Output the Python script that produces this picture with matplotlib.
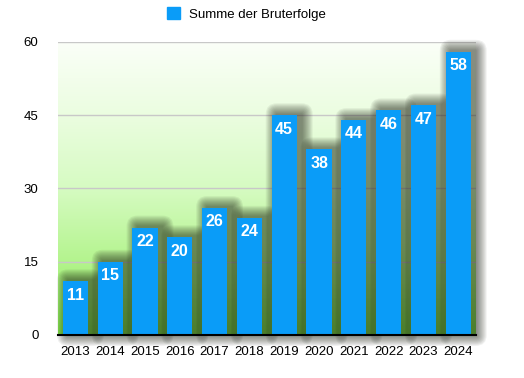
import numpy as np
import matplotlib.pyplot as plt
from matplotlib.colors import LinearSegmentedColormap
from matplotlib.patches import FancyBboxPatch, Patch

plt.rcParams['font.family'] = ['Liberation Sans', 'DejaVu Sans']

years = ['2013', '2014', '2015', '2016', '2017', '2018',
         '2019', '2020', '2021', '2022', '2023', '2024']
values = [11, 15, 22, 20, 26, 24, 45, 38, 44, 46, 47, 58]
series_name = 'Summe der Bruterfolge'
yticks = [0, 15, 30, 45, 60]

bar_color = '#0a9cf8'
bar_w = 0.72

fig = plt.figure(figsize=(5.24, 3.78), dpi=100)
ax = fig.add_axes([0.1107, 0.1138, 0.797, 0.7752])
x = np.arange(len(years))
ax.set_xlim(-0.5, len(years) - 0.5)
ax.set_ylim(0, 60)

# green gradient background
grad_cmap = LinearSegmentedColormap.from_list(
    'bg', [(0.0, '#80e448'), (0.25, '#b4f48e'), (0.5, '#d6fbc2'),
           (0.75, '#ebfde0'), (1.0, '#fbfff8')])
grad = np.linspace(0, 1, 256).reshape(-1, 1)
ax.imshow(grad, cmap=grad_cmap, origin='lower', aspect='auto',
          extent=(-0.5, len(years) - 0.5, 0, 60), zorder=0)

for t in yticks[1:]:
    ax.axhline(t, color='#c8c8c8', lw=1, zorder=1)

# soft drop shadow: stacked translucent rounded boxes, in pixel units
px_x = 1 / 34.8
px_y = 60 / 293
for xi, v in zip(x, values):
    for k in range(10):
        e = 1 + k * 1.1
        r = FancyBboxPatch((xi - bar_w / 2 + 5 * px_x, 0),
                           bar_w, v + 1 * px_y,
                           boxstyle=f'round,pad={e * px_x},rounding_size={e * px_x}',
                           mutation_aspect=px_y / px_x,
                           facecolor='#1c2014', edgecolor='none', alpha=0.065,
                           zorder=2, clip_on=False)
        ax.add_patch(r)

bars = ax.bar(x, values, width=bar_w, color=bar_color, zorder=3,
              label=series_name)

for xi, v in zip(x, values):
    ax.annotate(str(v), (xi, v), xytext=(0, -10), textcoords='offset points',
                ha='center', va='center', color='white', fontsize=11.5,
                fontweight='bold', zorder=4)

ax.set_xticks(x)
ax.set_xticklabels(years)
ax.set_yticks(yticks)
ax.tick_params(length=0, labelsize=9.5, pad=8)
ax.tick_params(axis='y', pad=14)
for s in ['top', 'right', 'left']:
    ax.spines[s].set_visible(False)
ax.spines['bottom'].set_linewidth(1.5)
ax.spines['bottom'].set_zorder(5)

fig.legend(handles=[Patch(color=bar_color, label=series_name)],
           loc='center', bbox_to_anchor=(0.47, 0.963), frameon=False,
           fontsize=9.5, handlelength=1.0, handleheight=1.0,
           handletextpad=0.7)

fig.savefig('out.png', dpi=100)
